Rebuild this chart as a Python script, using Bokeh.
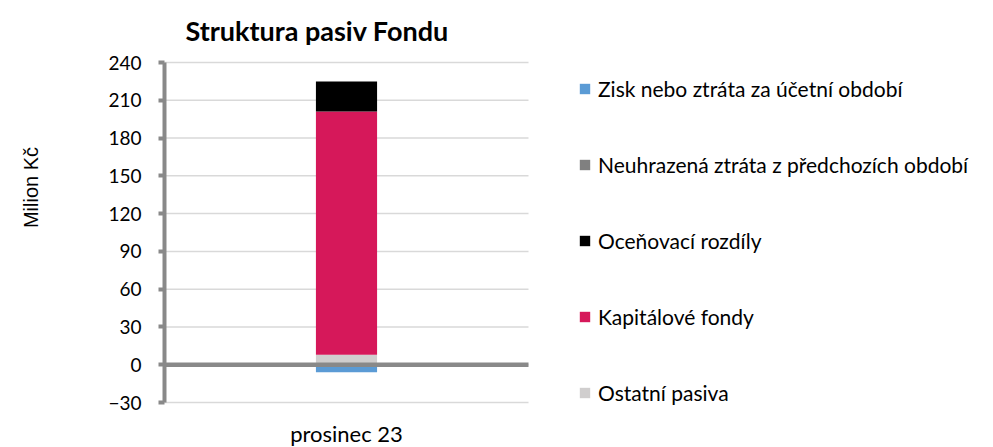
import math
from bokeh.plotting import figure
from bokeh.models import Legend, LegendItem, Label, FixedTicker
from bokeh.embed import file_html
from bokeh.resources import INLINE

title_text = "Struktura pasiv Fondu"
y_label = "Milion Kč"
categories = ["prosinec 23"]
pos_names = ["Ostatní pasiva", "Kapitálové fondy", "Oceňovací rozdíly"]
pos_values = [[8], [193], [24]]
neg_names = ["Neuhrazená ztráta z předchozích období", "Zisk nebo ztráta za účetní období"]
neg_values = [[0], [-6]]
pos_colors = ["#d0cece", "#d6185a", "#000000"]
neg_colors = ["#808080", "#5b9bd5"]
y_ticks = [-30, 0, 30, 60, 90, 120, 150, 180, 210, 240]
y_min, y_max = -30, 240

FONT = "Lato"
W, H = 990, 447
LEFT, TOP = 164, 62                # pixel position of the plot area in the page
PLOT_W, PLOT_H = 364, 340          # pixel size of the plot area
ppu = PLOT_H / (y_max - y_min)     # pixels per value unit
x_start = -LEFT / PLOT_W           # category slot spans x = 0..1
x_end = (W - LEFT) / PLOT_W
y_end = y_max + TOP / ppu
y_start = y_min - (H - TOP - PLOT_H) / ppu

p = figure(x_range=(x_start, x_end), y_range=(y_start, y_end), width=W, height=H,
           output_backend="svg", toolbar_location=None,
           min_border_left=0, min_border_right=0, min_border_top=0, min_border_bottom=0)
p.outline_line_color = None
p.background_fill_color = "white"
p.title.visible = False
p.xaxis.visible = False
p.xgrid.visible = False
p.ygrid.visible = False

# gridlines across the plot area
p.segment(x0=0, x1=1, y0=y_ticks, y1=y_ticks, line_color="#d9d9d9", line_width=1.5)

cx = [0.5]
pos_data = {"x": cx}
for n, v in zip(pos_names, pos_values):
    pos_data[n] = v
neg_data = {"x": cx}
for n, v in zip(neg_names, neg_values):
    neg_data[n] = v

rp = p.vbar_stack(pos_names, x="x", width=0.168, source=pos_data, color=pos_colors, line_color=None)
rn = p.vbar_stack(neg_names, x="x", width=0.168, source=neg_data, color=neg_colors, line_color=None)

# category axis crossing at zero
p.segment(x0=0, x1=1, y0=0, y1=0, line_color="#898989", line_width=4.5)

# value axis drawn at the left edge of the plot area
yax = p.yaxis[0]
yax.fixed_location = 0
yax.ticker = FixedTicker(ticks=y_ticks)
yax.bounds = (y_min, y_max)
yax.axis_line_color = "#898989"
yax.axis_line_width = 4
yax.major_tick_line_color = "#898989"
yax.major_tick_line_width = 4
yax.major_tick_out = 6
yax.major_tick_in = 0
yax.minor_tick_line_color = None
yax.major_label_text_font = FONT
yax.major_label_text_font_size = "19px"
yax.major_label_text_color = "#000000"
yax.major_label_standoff = 17

# texts
p.add_layout(Label(x=185, y=H - 30, x_units="screen", y_units="screen", text=title_text,
                   text_align="left", text_baseline="alphabetic",
                   text_font=FONT, text_font_size="27px", text_font_style="bold",
                   text_color="#000000"))
p.add_layout(Label(x=30, y=H - 187, x_units="screen", y_units="screen", text=y_label,
                   angle=math.pi / 2, text_align="center", text_baseline="middle",
                   text_font="Liberation Sans", text_font_size="20px", text_color="#000000"))
p.add_layout(Label(x=cx[0], y=H - 433, x_units="data", y_units="screen", text=categories[0],
                   text_align="center", text_baseline="middle",
                   text_font=FONT, text_font_size="22px", text_color="#000000"))

items = [
    LegendItem(label=neg_names[1], renderers=[rn[1]]),
    LegendItem(label=neg_names[0], renderers=[rn[0]]),
    LegendItem(label=pos_names[2], renderers=[rp[2]]),
    LegendItem(label=pos_names[1], renderers=[rp[1]]),
    LegendItem(label=pos_names[0], renderers=[rp[0]]),
]
legend = Legend(items=items, location=(578, 42), orientation="vertical",
                glyph_width=13, glyph_height=13, label_height=25, spacing=51,
                padding=0, margin=0, label_standoff=7,
                label_text_font=FONT, label_text_font_size="21px", label_text_color="#000000",
                label_text_baseline="middle",
                border_line_color=None, background_fill_alpha=0)
p.add_layout(legend, "center")

open("out.html", "w").write(file_html(p, INLINE))
